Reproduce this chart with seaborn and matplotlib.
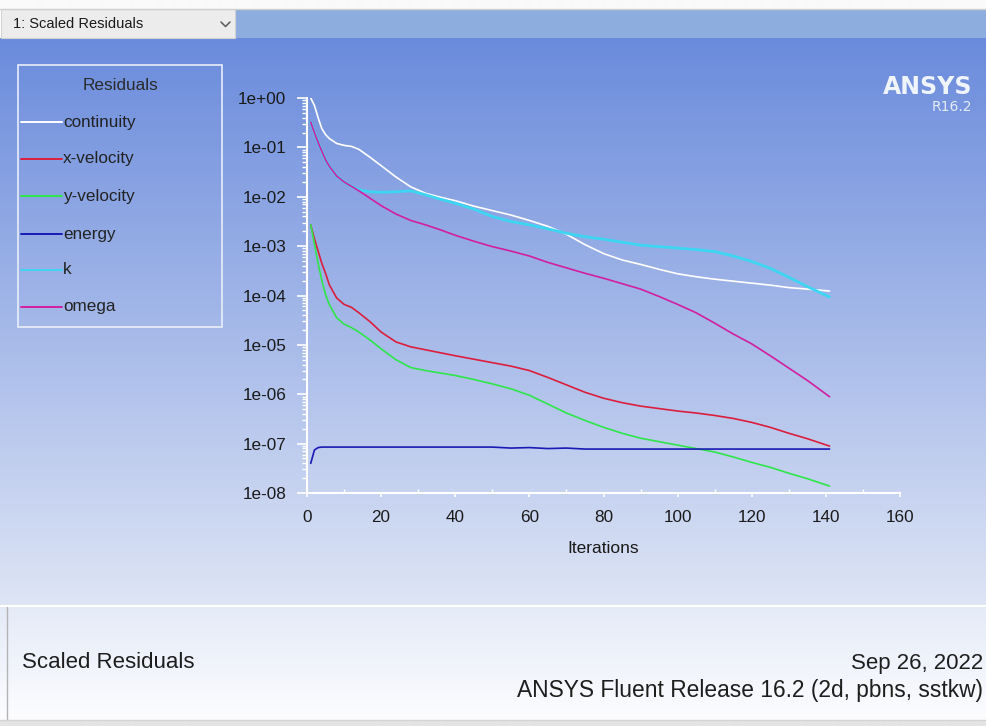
import numpy as np
import pandas as pd
import matplotlib
matplotlib.use("Agg")
import matplotlib.pyplot as plt
from matplotlib.lines import Line2D
from matplotlib.patches import Rectangle
from matplotlib.ticker import FixedLocator, FuncFormatter, LogLocator, MultipleLocator, NullFormatter
import seaborn as sns

# ---- residual history (log10 of scaled residual per iteration) ----
iterations = [1, 2, 3, 4, 5, 6, 8, 10, 12, 14, 17, 20, 24, 28, 32, 36, 40, 45, 50, 55,
              60, 65, 70, 75, 80, 85, 90, 95, 100, 105, 110, 115, 120, 125, 130, 135, 141]

continuity_log10 = [0.0, -0.15, -0.40, -0.62, -0.74, -0.82, -0.92, -0.96, -0.98, -1.04,
                    -1.20, -1.37, -1.60, -1.80, -1.93, -2.01, -2.08, -2.19, -2.28, -2.37,
                    -2.48, -2.60, -2.76, -2.97, -3.15, -3.28, -3.37, -3.47, -3.56, -3.62,
                    -3.67, -3.71, -3.75, -3.79, -3.84, -3.87, -3.91]
x_velocity_log10 = [-2.57, -2.85, -3.10, -3.35, -3.55, -3.78, -4.05, -4.18, -4.24, -4.35,
                    -4.53, -4.74, -4.94, -5.04, -5.10, -5.16, -5.22, -5.29, -5.36, -5.43,
                    -5.52, -5.66, -5.81, -5.96, -6.08, -6.17, -6.24, -6.29, -6.34, -6.38,
                    -6.43, -6.49, -6.57, -6.67, -6.79, -6.90, -7.05]
y_velocity_log10 = [-2.57, -2.95, -3.35, -3.70, -3.98, -4.18, -4.45, -4.58, -4.65, -4.74,
                    -4.90, -5.08, -5.30, -5.46, -5.52, -5.57, -5.62, -5.70, -5.79, -5.89,
                    -6.02, -6.20, -6.38, -6.53, -6.67, -6.79, -6.89, -6.96, -7.03, -7.10,
                    -7.17, -7.27, -7.38, -7.48, -7.60, -7.71, -7.86]
energy_log10 = [-7.40, -7.13, -7.08, -7.07, -7.07, -7.07, -7.07, -7.07, -7.07, -7.07,
                -7.07, -7.07, -7.07, -7.07, -7.07, -7.07, -7.07, -7.07, -7.07, -7.09,
                -7.08, -7.10, -7.09, -7.11, -7.11, -7.11, -7.11, -7.11, -7.11, -7.11,
                -7.11, -7.11, -7.11, -7.11, -7.11, -7.11, -7.11]
k_log10 = [-0.49, -0.70, -0.90, -1.08, -1.25, -1.38, -1.58, -1.70, -1.79, -1.86,
           -1.90, -1.91, -1.90, -1.88, -1.96, -2.05, -2.13, -2.25, -2.40, -2.50,
           -2.57, -2.65, -2.74, -2.81, -2.86, -2.92, -2.98, -3.01, -3.04, -3.07,
           -3.11, -3.20, -3.31, -3.45, -3.63, -3.82, -4.03]
omega_log10 = [-0.49, -0.70, -0.90, -1.08, -1.25, -1.38, -1.58, -1.70, -1.79, -1.88,
               -2.03, -2.18, -2.35, -2.48, -2.57, -2.67, -2.78, -2.90, -3.01, -3.10,
               -3.20, -3.33, -3.44, -3.55, -3.65, -3.76, -3.87, -4.02, -4.18, -4.35,
               -4.56, -4.78, -4.98, -5.22, -5.47, -5.72, -6.05]

series_names = ["continuity", "x-velocity", "y-velocity", "energy", "k", "omega"]
series_log10 = [continuity_log10, x_velocity_log10, y_velocity_log10,
                energy_log10, k_log10, omega_log10]
series_colors = {"continuity": "#ffffff", "x-velocity": "#dc1e3c", "y-velocity": "#2ee64a",
                 "energy": "#1a1ab4", "k": "#3cd6f2", "omega": "#d21ea0"}
series_widths = {"continuity": 1.2, "x-velocity": 1.2, "y-velocity": 1.2,
                 "energy": 1.2, "k": 2.0, "omega": 1.2}

x_ticks = [0, 20, 40, 60, 80, 100, 120, 140, 160]
y_ticks = [1e0, 1e-1, 1e-2, 1e-3, 1e-4, 1e-5, 1e-6, 1e-7, 1e-8]

frames = []
for name, vals in zip(series_names, series_log10):
    frames.append(pd.DataFrame({"Iterations": iterations,
                                "Residual": 10.0 ** np.asarray(vals),
                                "Series": name}))
df = pd.concat(frames, ignore_index=True)

sns.set_theme(style="ticks")
plt.rcParams["font.family"] = ["Liberation Sans", "DejaVu Sans"]

W, H = 987, 726
fig = plt.figure(figsize=(W / 100, H / 100), dpi=100)

# ---- window backdrop, drawn in pixel coordinates ----
bg = fig.add_axes([0, 0, 1, 1], zorder=0)
bg.set_axis_off()
img = np.ones((H, 1, 3))
img[0:9] = np.array([250, 250, 250]) / 255
top_c = np.array([106, 139, 220]) / 255
bot_c = np.array([222, 229, 245]) / 255
for r in range(38, 606):
    t = (r - 38) / (606 - 38)
    img[r, 0] = top_c * (1 - t) + bot_c * t
panel_top = np.array([228, 234, 247]) / 255
panel_bot = np.array([253, 253, 255]) / 255
for r in range(606, 720):
    t = (r - 606) / (720 - 606)
    img[r, 0] = panel_top * (1 - t) + panel_bot * t
img[720:] = np.array([228, 228, 228]) / 255
bg.imshow(img, aspect="auto", extent=[0, W, H, 0], interpolation="bilinear")
bg.set_xlim(0, W)
bg.set_ylim(H, 0)

# title bar with the plot selector
bg.add_patch(Rectangle((235, 9), W - 235, 29, facecolor="#8eaddf", edgecolor="none"))
bg.add_patch(Rectangle((0.5, 9), 234.5, 29, facecolor="#ececec", edgecolor="#d2d2d2", lw=0.8))
bg.add_line(Line2D([0, W], [8.5, 8.5], color="#cfcfcf", lw=1))
bg.text(13, 24, "1: Scaled Residuals", fontsize=10.5, color="#1a1a1a", va="center", ha="left")
bg.add_line(Line2D([221, 225.5, 230], [22, 26.5, 22], color="#5a5a5a", lw=1.1))

# lower info panel
bg.add_line(Line2D([0, W], [606, 606], color="#ffffff", lw=1.5))
bg.add_line(Line2D([6.5, 6.5], [607, 720], color="#b4b4b4", lw=1))
bg.add_line(Line2D([0, W], [720, 720], color="#d4d4d4", lw=1))
bg.text(22, 663, "Scaled Residuals", fontsize=16, color="#1e1e1e", va="center", ha="left")
bg.text(983, 663, "Sep 26, 2022", fontsize=16, color="#1e1e1e", va="center", ha="right")
bg.text(983, 691, "ANSYS Fluent Release 16.2 (2d, pbns, sstkw)", fontsize=16.4,
        color="#1e1e1e", va="center", ha="right")

# product mark
bg.text(972, 87, "ANSYS", fontsize=17, fontweight="bold", color="#f0f4fc",
        va="center", ha="right", family="DejaVu Sans")
bg.text(972, 107, "R16.2", fontsize=10, color="#e4ebf8", va="center", ha="right",
        family="DejaVu Sans")

# residual legend
bg.add_patch(Rectangle((18, 65), 204, 262, facecolor="none", edgecolor="#e8eef9", lw=1.2))
bg.text(120, 86, "Residuals", fontsize=12.3, color="#2a2a2a", va="center", ha="center")
legend_rows = [122, 159, 196, 234, 270, 307]
for name, yy in zip(series_names, legend_rows):
    bg.add_line(Line2D([21, 62], [yy, yy], color=series_colors[name], lw=1.4))
    bg.text(63, yy, name, fontsize=12.3, color="#222222", va="center", ha="left")

# ---- residual plot ----
ax = fig.add_axes([307 / W, 1 - 493 / H, (900 - 307) / W, (493 - 98) / H], zorder=2)
ax.set_facecolor("none")
for name in series_names:
    sns.lineplot(data=df[df["Series"] == name], x="Iterations", y="Residual",
                 color=series_colors[name], lw=series_widths[name],
                 estimator=None, sort=False, legend=False, ax=ax)

ax.set_yscale("log")
ax.set_xlim(0, 160)
ax.set_ylim(1e-8, 1e0)
ax.xaxis.set_major_locator(FixedLocator(x_ticks))
ax.xaxis.set_minor_locator(MultipleLocator(10))
ax.yaxis.set_major_locator(FixedLocator(y_ticks))
ax.yaxis.set_minor_locator(LogLocator(base=10, subs=np.arange(2, 10), numticks=20))
ax.yaxis.set_minor_formatter(NullFormatter())
ax.yaxis.set_major_formatter(FuncFormatter(lambda v, p: "{:.0e}".format(v)))
ax.xaxis.set_major_formatter(FuncFormatter(lambda v, p: "{:d}".format(int(round(v)))))

for side in ["top", "right"]:
    ax.spines[side].set_visible(False)
for side in ["left", "bottom"]:
    ax.spines[side].set_color("#ffffff")
    ax.spines[side].set_linewidth(1.5)

ax.tick_params(axis="y", which="major", direction="out", length=7, width=1.2,
               color="#ffffff", labelcolor="#1a1a1a", labelsize=12.3, pad=8)
ax.tick_params(axis="y", which="minor", direction="out", length=3.5, width=1.0, color="#ffffff")
ax.tick_params(axis="x", which="major", direction="out", length=3, width=1.2,
               color="#ffffff", labelcolor="#1a1a1a", labelsize=12.3, pad=9)
ax.tick_params(axis="x", which="minor", direction="in", length=3, width=1.0, color="#ffffff")
ax.set_xlabel("Iterations", fontsize=12.5, color="#1a1a1a", labelpad=12)
ax.set_ylabel("")
ax.grid(False)

fig.savefig("out.png", dpi=100)
